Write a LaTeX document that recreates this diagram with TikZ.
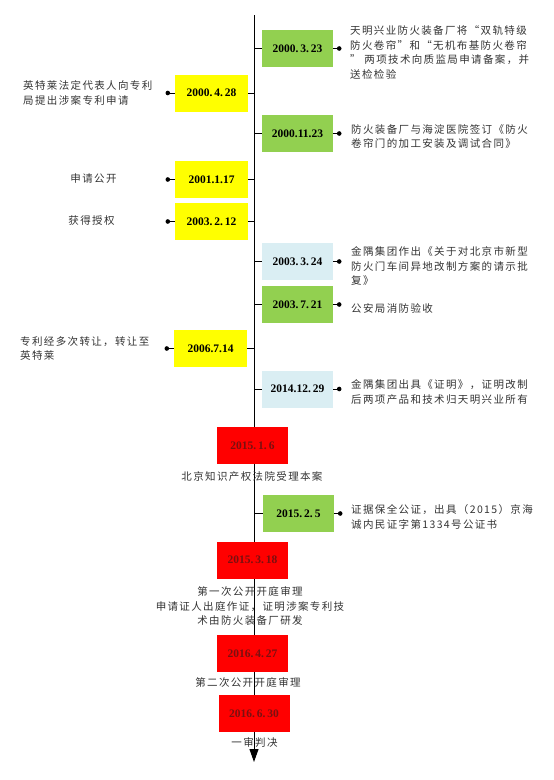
\documentclass[tikz,border=0pt]{standalone}
\usepackage{fontspec}
\setmainfont{Liberation Serif}
\newfontfamily\cjk[LetterSpace=13]{Noto Sans CJK SC}
\usetikzlibrary{arrows.meta}
\definecolor{gbox}{HTML}{92D050}
\definecolor{ybox}{HTML}{FFFF00}
\definecolor{bbox}{HTML}{DAEEF3}
\definecolor{rbox}{HTML}{FF0000}
\definecolor{rtxt}{HTML}{7A1010}
\definecolor{txtgray}{HTML}{333333}
\begin{document}
\begin{tikzpicture}[x=1pt,y=-1pt,
  datebox/.style={minimum width=71pt, minimum height=37pt, inner sep=0pt,
    font=\fontsize{11.5}{13}\selectfont\bfseries},
  greenbox/.style={datebox, fill=gbox},
  yellowbox/.style={datebox, fill=ybox, minimum width=73pt},
  bluebox/.style={datebox, fill=bbox},
  redbox/.style={datebox, fill=rbox, text=rtxt},
  dot/.style={circle, fill=black, inner sep=0pt, minimum size=4.6pt},
  conn/.style={draw=black, line width=0.8pt},
  desc/.style={font=\cjk\fontsize{10.5}{14.5}\selectfont, inner sep=0pt, text=txtgray},
  axisline/.style={line width=1pt, -{Triangle[width=9pt,length=13pt]}}
]
\useasboundingbox (0,0) rectangle (554,780);
\coordinate (top) at (254,15);
\coordinate (bot) at (254,762);
\draw[axisline] (top) -- (bot);

% right boxes
\node[greenbox] (g1) at (297.5,48.5) {2000.\,3.\,23};
\node[greenbox] (g2) at (297.5,133.5) {2000.11.23};
\node[bluebox] (b1) at (297.5,261.5) {2003.\,3.\,24};
\node[greenbox] (g3) at (297.5,304.5) {2003.\,7.\,21};
\node[bluebox] (b2) at (297.5,389) {2014.12.\,29};
\node[greenbox] (g4) at (298.5,513.5) {2015.\,2.\,5};

% left boxes
\node[yellowbox] (y1) at (211.5,93) {2000.\,4.\,28};
\node[yellowbox] (y2) at (211.5,179.5) {2001.1.17};
\node[yellowbox] (y3) at (211.5,221.5) {2003.\,2.\,12};
\node[yellowbox] (y4) at (210.5,348.5) {2006.7.14};

% red boxes
\node[redbox] (r1) at (252.5,445.5) {2015.\,1.\,6};
\node[redbox] (r2) at (252.5,560) {2015.\,3.\,18};
\node[redbox] (r3) at (252.5,653.5) {2016.\,4.\,27};
\node[redbox] (r4) at (254,713.5) {2016.\,6.\,30};

% axis connectors
\foreach \b in {g1,g2,b1,g3,b2,g4}{
  \draw[conn] (top |- \b) -- (\b.west);
}
\foreach \b in {y1,y2,y3,y4}{
  \draw[conn] (\b.east) -- (top |- \b);
}

% dots right
\foreach \b in {g1,g2,b1,g3,b2,g4}{
  \node[dot] (\b d) at ([xshift=6pt]\b.east) {};
  \draw[conn] (\b.east) -- (\b d);
}
% dots left
\foreach \b in {y1,y2,y3,y4}{
  \node[dot] (\b d) at ([xshift=-7pt]\b.west) {};
  \draw[conn] (\b d) -- (\b.west);
}

% right descriptions
\node[desc, anchor=west, align=left] (g1t) at (350,52.5) {天明兴业防火装备厂将“双轨特级\\防火卷帘”和“无机布基防火卷帘\\” 两项技术向质监局申请备案，并\\送检检验};
\node[desc, anchor=west, align=left] (g2t) at (351,136.5) {防火装备厂与海淀医院签订《防火\\卷帘门的加工安装及调试合同》};
\node[desc, anchor=west, align=left] (b1t) at (351,266) {金隅集团作出《关于对北京市新型\\防火门车间异地改制方案的请示批\\复》};
\node[desc, anchor=west, align=left] (g3t) at (351,308) {公安局消防验收};
\node[desc, anchor=west, align=left] (b2t) at (351,392) {金隅集团出具《证明》，证明改制\\后两项产品和技术归天明兴业所有};
\node[desc, anchor=west, align=left] (g4t) at (351,517) {证据保全公证，出具（2015）京海\\诚内民证字第1334号公证书};

% left descriptions
\node[desc, anchor=west, align=left] (y1t) at (23,93) {英特莱法定代表人向专利\\局提出涉案专利申请};
\node[desc] (y2t) at (93.5,179) {申请公开};
\node[desc] (y3t) at (91.5,221) {获得授权};
\node[desc, anchor=west, align=left] (y4t) at (20,348.5) {专利经多次转让，转让至\\英特莱};

% center descriptions
\node[desc, align=center] (r1t) at (252,476) {北京知识产权法院受理本案};
\node[desc, align=center] (r2t) at (250,606) {第一次公开开庭审理\\申请证人出庭作证，证明涉案专利技\\术由防火装备厂研发};
\node[desc, align=center] (r3t) at (248,682) {第二次公开开庭审理};
\node[desc, align=center] (r4t) at (254.5,742) {一审判决};
\end{tikzpicture}
\end{document}
